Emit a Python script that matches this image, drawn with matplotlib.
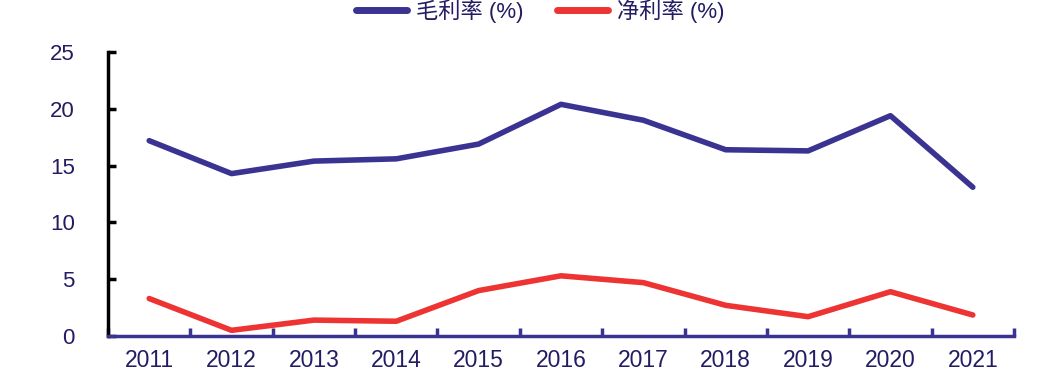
import numpy as np
import matplotlib.pyplot as plt
from matplotlib.ticker import FixedLocator

plt.rcParams['font.family'] = ['Liberation Sans', 'Noto Sans CJK SC', 'DejaVu Sans']

years = ['2011', '2012', '2013', '2014', '2015', '2016', '2017', '2018', '2019', '2020', '2021']
gross_margin = [17.2, 14.3, 15.4, 15.6, 16.9, 20.4, 19.0, 16.4, 16.3, 19.4, 13.1]
net_margin = [3.3, 0.5, 1.4, 1.3, 4.0, 5.3, 4.7, 2.7, 1.7, 3.9, 1.85]

navy = '#3B3392'
text_col = '#231C63'
red = '#EE3333'

fig = plt.figure(figsize=(10.64, 3.83), dpi=100)
ax = fig.add_axes([0.1015, 0.1227, 0.8515, 0.7413])

x = np.arange(len(years))
ax.plot(x, gross_margin, color=navy, lw=4.0, solid_capstyle='round', label='毛利率 (%)')
ax.plot(x, net_margin, color=red, lw=4.0, solid_capstyle='round', label='净利率 (%)')

ax.set_xlim(-0.5, len(years) - 0.5)
ax.set_ylim(0, 25)
ax.set_yticks([0, 5, 10, 15, 20, 25])

# category boundaries as ticks, labels centred
ax.xaxis.set_major_locator(FixedLocator(np.arange(-0.5, len(years), 1.0)))
ax.xaxis.set_minor_locator(FixedLocator(x))
ax.set_xticklabels([], minor=False)
ax.set_xticklabels(years, minor=True)
ax.tick_params(axis='x', which='major', direction='in', length=6, width=2.5, color=navy)
ax.tick_params(axis='x', which='minor', length=0, pad=9, labelsize=16.5, labelcolor=text_col)
ax.tick_params(axis='y', direction='in', length=6, width=2.5, color='black',
               pad=24, labelsize=16, labelcolor=text_col)

for s in ['top', 'right']:
    ax.spines[s].set_visible(False)
ax.spines['left'].set_color('black')
ax.spines['left'].set_linewidth(2.5)
ax.spines['bottom'].set_color(navy)
ax.spines['bottom'].set_linewidth(2.5)

leg = fig.legend(loc='center', bbox_to_anchor=(0.508, 0.972), ncol=2, frameon=False,
                 fontsize=16, handlelength=2.3, columnspacing=1.5, handletextpad=0.4,
                 borderpad=0)
for t in leg.get_texts():
    t.set_color(text_col)
for h in leg.get_lines():
    h.set_linewidth(5)

fig.savefig('out.png', dpi=100)
